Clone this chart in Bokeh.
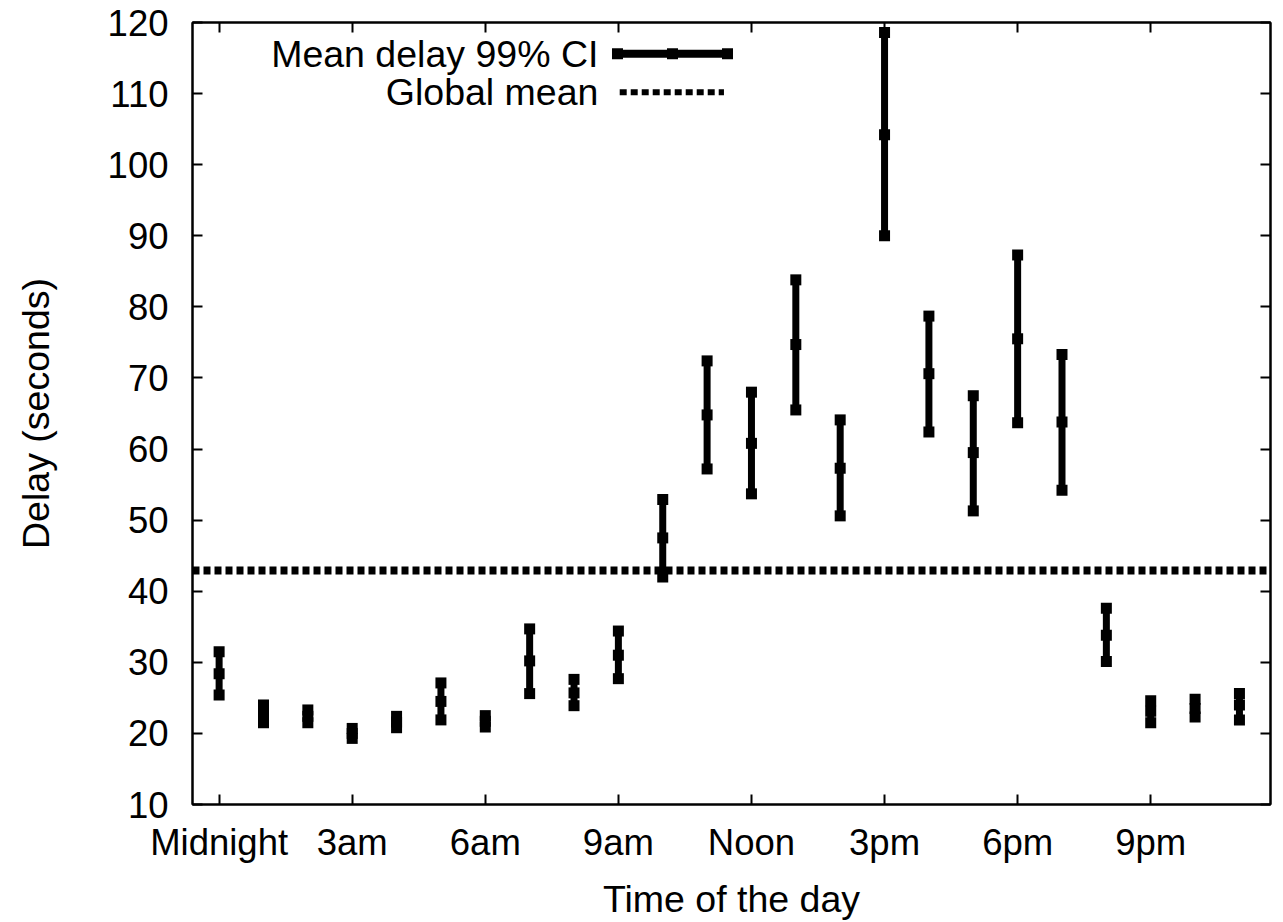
from bokeh.plotting import figure
from bokeh.models import Range1d, FixedTicker, LinearAxis, Span
from bokeh.core.properties import value
from bokeh.embed import file_html
from bokeh.resources import INLINE

# ---- data ----
hours = list(range(24))
delay_mean = [28.4, 22.8, 22.4, 20.0, 21.6, 24.5, 21.7, 30.2, 25.7, 31.0, 47.5, 64.8,
              60.8, 74.7, 57.3, 104.2, 70.6, 59.5, 75.5, 63.8, 33.8, 23.1, 23.5, 24.0]
delay_low = [25.4, 21.5, 21.5, 19.3, 20.8, 21.9, 20.9, 25.6, 23.9, 27.7, 42.0, 57.2,
             53.7, 65.5, 50.6, 90.0, 62.4, 51.3, 63.7, 54.2, 30.1, 21.5, 22.3, 21.9]
delay_high = [31.5, 24.0, 23.3, 20.7, 22.4, 27.1, 22.5, 34.7, 27.6, 34.4, 52.9, 72.4,
              68.0, 83.8, 64.1, 118.6, 78.7, 67.5, 87.3, 73.3, 37.6, 24.6, 24.8, 25.6]
global_mean = 42.9
tick_hours = [0, 3, 6, 9, 12, 15, 18, 21]
tick_labels = ["Midnight", "3am", "6am", "9am", "Noon", "3pm", "6pm", "9pm"]
y_ticks = [10, 20, 30, 40, 50, 60, 70, 80, 90, 100, 110, 120]
legend_labels = ["Mean delay 99% CI", "Global mean"]

FONT = "Liberation Sans"
TICK_FS = "36.5px"
LABEL_FS = "37.5px"

p = figure(width=1283, height=922, output_backend="svg", toolbar_location=None,
           x_range=Range1d(-0.6, 23.7), y_range=Range1d(10, 120),
           min_border_left=192, min_border_right=13, min_border_top=22,
           min_border_bottom=118)
p.grid.visible = False
p.background_fill_color = "white"
p.border_fill_color = "white"
p.outline_line_color = "black"
p.outline_line_width = 2

def style_axis(ax):
    ax.axis_line_width = 2
    ax.axis_line_color = "black"
    ax.major_tick_in = 10
    ax.major_tick_out = 0
    ax.major_tick_line_width = 2
    ax.major_tick_line_color = "black"
    ax.minor_tick_line_color = None
    ax.major_label_text_font = FONT
    ax.major_label_text_font_size = TICK_FS
    ax.major_label_text_color = "black"
    ax.axis_label_text_font = FONT
    ax.axis_label_text_font_style = "normal"
    ax.axis_label_text_font_size = LABEL_FS
    ax.axis_label_text_color = "black"

xt = FixedTicker(ticks=tick_hours)
yt = FixedTicker(ticks=y_ticks)

p.xaxis.ticker = xt
p.xaxis.major_label_overrides = {h: lab for h, lab in zip(tick_hours, tick_labels)}
p.xaxis.axis_label = "Time of the day"
p.yaxis.ticker = yt
p.yaxis.axis_label = "Delay (seconds)"
style_axis(p.xaxis[0])
style_axis(p.yaxis[0])
p.xaxis.major_label_standoff = 17
p.xaxis.axis_label_standoff = 12
p.yaxis.major_label_standoff = 24
p.yaxis.axis_label_standoff = 48

# mirrored tick axes (no labels)
top_ax = LinearAxis(ticker=xt)
style_axis(top_ax)
top_ax.major_label_overrides = {h: "" for h in tick_hours}
top_ax.major_label_text_font_size = "1px"
top_ax.major_label_standoff = 0
p.add_layout(top_ax, "above")
right_ax = LinearAxis(ticker=yt)
style_axis(right_ax)
right_ax.major_label_overrides = {v: "" for v in y_ticks}
right_ax.major_label_text_font_size = "1px"
right_ax.major_label_standoff = 0
p.add_layout(right_ax, "right")

# global mean
p.add_layout(Span(location=global_mean, dimension="width", line_color="black",
                  line_width=8, line_dash="7 4"))

# error bars
p.segment(x0=hours, y0=delay_low, x1=hours, y1=delay_high, line_color="black",
          line_width=7)
for ys in (delay_low, delay_high, delay_mean):
    p.scatter(x=hours, y=ys, marker="square", size=11, fill_color="black",
              line_color=None)

# legend (label on the left, sample on the right)
leg_text_x = 8.55
leg_x0, leg_x1 = 8.98, 11.46
leg_y = [115.6, 110.2]
p.text(x=[leg_text_x, leg_text_x], y=leg_y, text=legend_labels,
       text_align="right", text_baseline="middle", text_font=value(FONT),
       text_font_size=LABEL_FS, text_color="black")
p.segment(x0=[leg_x0], y0=[leg_y[0]], x1=[leg_x1], y1=[leg_y[0]],
          line_color="black", line_width=8)
p.scatter(x=[leg_x0, (leg_x0 + leg_x1) / 2, leg_x1], y=[leg_y[0]] * 3,
          marker="square", size=11, fill_color="black", line_color=None)
p.segment(x0=[leg_x0 + 0.05], y0=[leg_y[1]], x1=[leg_x1 - 0.08], y1=[leg_y[1]],
          line_color="black", line_width=6, line_dash="7 4")

open("out.html", "w").write(file_html(p, INLINE))
